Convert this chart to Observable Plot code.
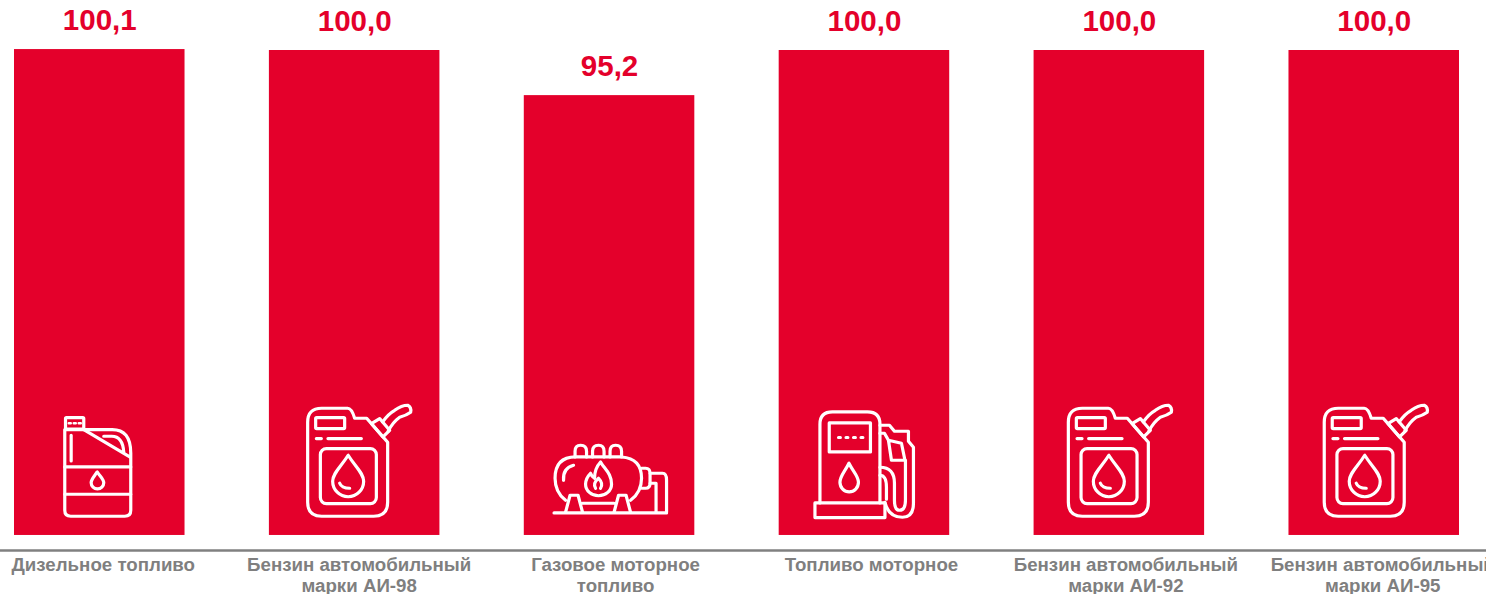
<!DOCTYPE html>
<html><head><meta charset="utf-8">
<script src="https://cdn.jsdelivr.net/npm/d3@7"></script>
<script src="https://cdn.jsdelivr.net/npm/@observablehq/plot@0.6"></script>
<style>html,body{margin:0;padding:0;background:#fff;overflow:hidden}svg{display:block}</style>
</head><body><div id="chart"></div>
<script>
const categories = ["Дизельное топливо","Бензин автомобильный\nмарки АИ-98","Газовое моторное\nтопливо","Топливо моторное","Бензин автомобильный\nмарки АИ-92","Бензин автомобильный\nмарки АИ-95"];
const values = [100.1,100.0,95.2,100.0,100.0,100.0];
const iconKinds = ["canister","jerry","gas","pump","jerry","jerry"];
const barBase = 48.4, axisLevel = 46.8, iconLevel = 56.4;

const labelDx = [3.5,4.5,6,7,6.5,8.5];
const iconDx = [0,-1,0,0,-5,-4];

const iconPaths = {
  jerry: `<path d="M14 27Q14 13 28 13H54Q58 13 61 23H73L94 47V107Q94 121 80 121H28Q14 121 14 107Z"/>
    <path d="M77.7 28.3L86 23.3 96 35 89.3 41.7Z"/>
    <path d="M89 26.7Q94 19 101 15Q108 10 114 10Q118 12 117 17Q113 20 106 22Q99 27 94.5 36"/>
    <rect x="22" y="22.3" width="29" height="11" rx="1"/>
    <path d="M22.7 43.3H27.7M34.3 43.3H67.7"/>
    <rect x="26.7" y="53.3" width="56" height="55" rx="6"/>
    <path d="M54.5 60C47 72 39 78 39 86A15.5 15.5 0 0 0 70 86C70 78 62 72 54.5 60Z"/>
    <path d="M46 88Q48 93 56 93"/>`,
  canister: `<rect x="25.75" y="22.3" width="18.25" height="11.5" rx="1"/>
    <path d="M29 28H31M34 28H36M39 28H41" stroke-width="2.5"/>
    <path d="M25 34.3H72Q91 34 91 58V115Q91 121 85 121H31Q25 121 25 115Z"/>
    <path d="M44 34.3L90 61.7M64 41H72Q83 41 84 57M31.4 40V65.7M25 71.7H91M25 99H91"/>
    <path d="M57.4 76.7C54 82 51.4 84 51.4 87.5A6.2 6 0 0 0 64 87.5C64 84 61 82 57.4 76.7Z"/>`,
  gas: `<path d="M4.5 117.7H117"/>
    <path d="M16 105Q5.5 97 5.5 83Q5.5 62 26 61.7H72Q92 63 92 83Q92 97 81 105"/>
    <path d="M25.5 61.7V56Q25.5 50 31 50Q37 50 37 56V61.7M43 61.7V56Q43 50 49 50Q54.5 50 54.5 56V61.7M60.5 61.7V56Q60.5 50 66 50Q72 50 72 56V61.7"/>
    <path d="M16 117L20.5 100H28.5L33 117M64.5 117L69 100H76.5L81 117M33 108H64.5"/>
    <path d="M51 66.7C55 74 62 78 62 89A13 11.5 0 0 1 36 89C36 84 38 81 41 78C42 81 43 82 45 83C45 77 47 71 51 66.7Z"/>
    <path d="M46 93Q43 88 49 83Q54 88 51 93"/>
    <path d="M92 73H96Q100.5 73 100.5 78V88Q100.5 93 96 93H92"/>
    <path d="M100.5 78H113Q117 78 117 85V117M100.5 88H106.5V117"/>
    <path d="M14 85Q13 73 24 70"/>`,
  pump: `<path d="M10.5 107.7H80.5V122.3H10.5Z"/>
    <path d="M15.5 107.7V29Q15.5 16.7 28 16.7H63Q75.5 16.7 75.5 29V107.7"/>
    <rect x="24.8" y="27.7" width="41.2" height="29"/>
    <path d="M34 42.3H36M41.5 42.3H43.5M49 42.3H51M56.5 42.3H58.5" stroke-width="3"/>
    <path d="M44.5 68C40 77 35.5 81 35.5 87A9.2 9.5 0 0 0 54 87C54 81 49 77 44.5 68Z"/>
    <path d="M75.5 30H85L90 36H104V46L109 52V108Q109 122 98 122Q84 122 80.5 107"/>
    <path d="M75.5 72Q90 72 90 88V105Q90 115 95 115Q101 115 101 105V65"/>
    <path d="M75.5 80Q82 80 82 92V104"/>
    <path d="M75.5 38H80L84 45 87 65H100.5L97 48 84 45"/>`
};
const iconSrc = k => "data:image/svg+xml," + encodeURIComponent(
  `<svg xmlns="http://www.w3.org/2000/svg" width="120" height="130" viewBox="0 0 120 130" fill="none" stroke="#fff" stroke-width="3.2" stroke-linejoin="round" stroke-linecap="round">${iconPaths[k]}</svg>`);

const rows = categories.map((c,i)=>({category:c,value:values[i],icon:iconKinds[i]}));
const red = "#e4002b", font = "'Liberation Sans', Arial, sans-serif";

const plot = Plot.plot({
  width:1486, height:594,
  marginTop:0, marginRight:0, marginBottom:44, marginLeft:0,
  style:{background:"#fff",fontFamily:font},
  x:{type:"band",domain:categories,range:[14,1459],paddingInner:0.331,paddingOuter:0,round:false,axis:null},
  y:{domain:[axisLevel,105.32],range:[550,0],axis:null},
  marks:[
    Plot.barY(rows,{x:"category",y1:()=>barBase,y2:"value",fill:red}),
    Plot.ruleY([axisLevel],{stroke:"#808080",strokeWidth:2.5}),
    Plot.text(rows,{x:"category",y:"value",text:d=>d.value.toFixed(1).replace(".",","),dy:-19.5,lineAnchor:"bottom",fill:red,fontSize:29.5,fontWeight:"bold",fontFamily:font}),
    ...rows.map((r,i)=>Plot.image([r],{x:"category",y:()=>iconLevel,src:d=>iconSrc(d.icon),dx:iconDx[i],width:120,height:130,preserveAspectRatio:"none"})),
    ...rows.map((r,i)=>Plot.text([r],{x:"category",text:"category",frameAnchor:"bottom",lineAnchor:"top",dx:labelDx[i],dy:5.5,lineHeight:1.13,fill:"#7f7f7f",fontSize:18.7,fontWeight:"bold",fontFamily:font}))
  ]
});
document.getElementById("chart").append(plot);
</script></body></html>
